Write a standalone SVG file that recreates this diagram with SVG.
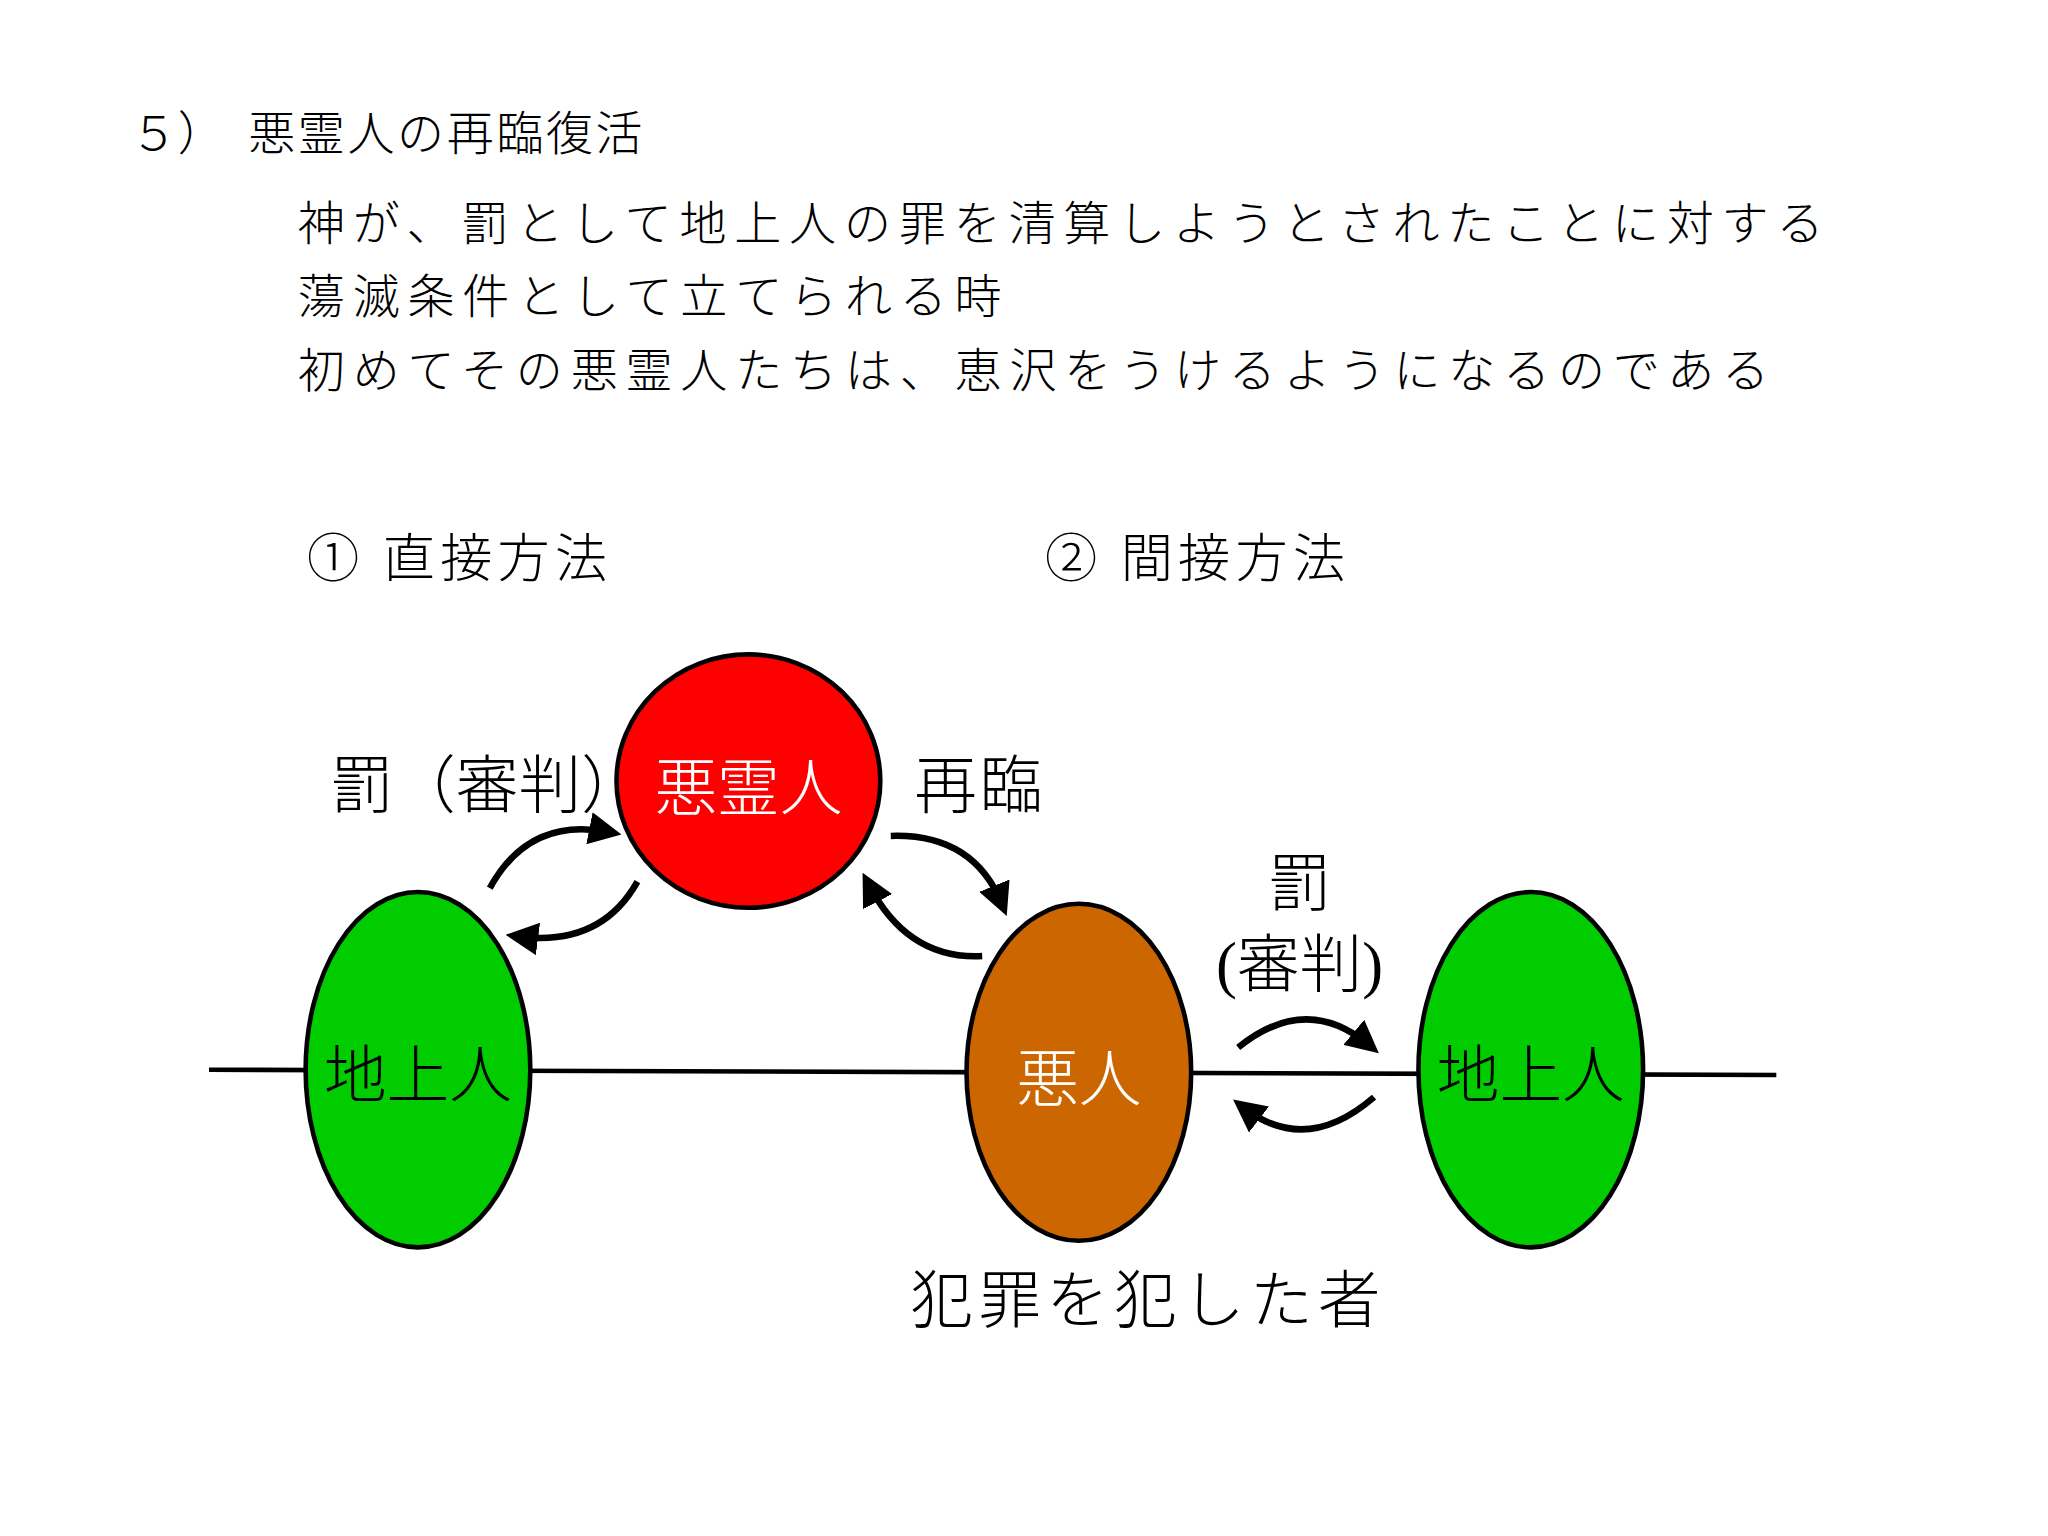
<svg xmlns="http://www.w3.org/2000/svg" width="2048" height="1536" viewBox="0 0 2048 1536">
<style>
text{font-family:"Liberation Serif","Noto Sans CJK JP",serif;fill:#000;font-weight:300}
.w{fill:#fff}
.n{stroke:#000;stroke-width:3.5}
.a{fill:none;stroke:#000;stroke-width:5}
.l{letter-spacing:4px}
</style>
<defs><marker id="h" markerWidth="5" markerHeight="5" refX="3" refY="2.5" orient="auto" markerUnits="strokeWidth"><path d="M0,0L5,2.5L0,5z" fill="#000"/></marker></defs>
<rect width="2048" height="1536" fill="#fff"/>
<g transform="scale(1.30612)">
<text x="100" y="115" font-size="36">５）</text>
<text x="190" y="115" font-size="36" letter-spacing="2">悪霊人の再臨復活</text>
<text x="228" y="184" font-size="36" letter-spacing="6">神が、罰として地上人の罪を清算しようとされたことに対する</text>
<text x="228" y="240" font-size="36" letter-spacing="6">蕩滅条件として立てられる時</text>
<text x="228" y="296" font-size="36" letter-spacing="6">初めてその悪霊人たちは、恵沢をうけるようになるのである</text>
<text x="235" y="442" font-size="40" class="l">① 直接方法</text>
<text x="800" y="442" font-size="40" class="l">② 間接方法</text>
<g id="connectors">
<path d="M160,819L1360,823" stroke="#000" stroke-width="3.5"/>
<path class="a" d="M375,680Q405,625 466,637" marker-end="url(#h)"/>
<path class="a" d="M488,675Q460,725 397,717" marker-end="url(#h)"/>
<path class="a" d="M682,640Q745,638 767,692" marker-end="url(#h)"/>
<path class="a" d="M752,732Q695,735 665,677" marker-end="url(#h)"/>
<path class="a" d="M948,802Q1000,760 1048,800" marker-end="url(#h)"/>
<path class="a" d="M1052,840Q1000,885 952,848" marker-end="url(#h)"/>
</g>
<g id="n1"><ellipse class="n" cx="573" cy="598" rx="101" ry="97" fill="#ff0000"/><text class="w" x="573" y="620" font-size="48" text-anchor="middle">悪霊人</text></g>
<g id="n2"><ellipse class="n" cx="320" cy="819" rx="86" ry="136" fill="#00cc00"/><text x="320" y="840" font-size="48" text-anchor="middle">地上人</text></g>
<g id="n3"><ellipse class="n" cx="826" cy="821" rx="86" ry="129" fill="#cc6600"/><text class="w" x="826" y="843" font-size="48" text-anchor="middle">悪人</text></g>
<g id="n4"><ellipse class="n" cx="1172" cy="819" rx="86" ry="136" fill="#00cc00"/><text x="1172" y="840" font-size="48" text-anchor="middle">地上人</text></g>
<text x="253" y="618" font-size="48">罰（審判）</text>
<text x="700" y="618" font-size="48" letter-spacing="2">再臨</text>
<text x="995" y="693" font-size="48" text-anchor="middle">罰</text>
<text x="995" y="755" font-size="48" text-anchor="middle">(審判)</text>
<text x="697" y="1012" font-size="48" class="l">犯罪を犯した者</text>
</g>
</svg>
